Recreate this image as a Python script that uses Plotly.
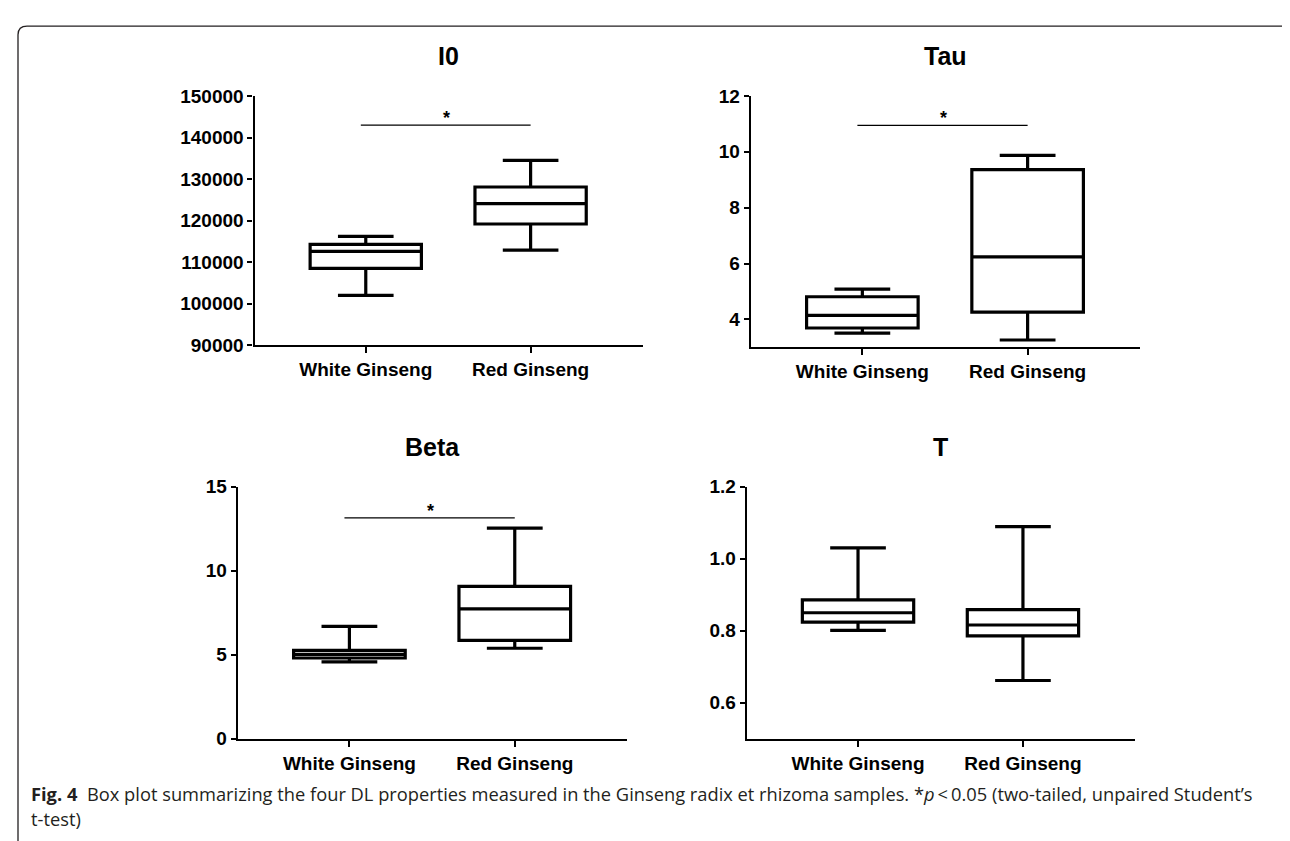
import plotly.graph_objects as go

# ---------------- data ----------------
categories = ["White Ginseng", "Red Ginseng"]
panel_titles = ["I0", "Tau", "Beta", "T"]

i0_lower = [102000, 112900]
i0_q1 = [108500, 119200]
i0_median = [112600, 124100]
i0_q3 = [114300, 128100]
i0_upper = [116200, 134500]

tau_lower = [3.51, 3.26]
tau_q1 = [3.69, 4.26]
tau_median = [4.14, 6.24]
tau_q3 = [4.81, 9.36]
tau_upper = [5.08, 9.87]

beta_lower = [4.58, 5.39]
beta_q1 = [4.81, 5.86]
beta_median = [5.03, 7.73]
beta_q3 = [5.26, 9.07]
beta_upper = [6.69, 12.53]

t_lower = [0.801, 0.662]
t_q1 = [0.824, 0.786]
t_median = [0.850, 0.816]
t_q3 = [0.886, 0.859]
t_upper = [1.030, 1.089]

# significance bar heights (None = not significant)
sig_y = [143000, 10.95, 13.15, None]

i0_ticks = [90000, 100000, 110000, 120000, 130000, 140000, 150000]
tau_ticks = [4, 6, 8, 10, 12]
beta_ticks = [0, 5, 10, 15]
t_ticks = [0.6, 0.8, 1.0, 1.2]
t_ticktext = ["0.6", "0.8", "1.0", "1.2"]

caption_head = "Fig. 4"
caption_line1 = ("Box plot summarizing the four DL properties measured in the Ginseng radix et "
                 "rhizoma samples. *<i>p</i>\u2009&lt;\u20090.05 (two-tailed, unpaired Student\u2019s")
caption_line2 = "t-test)"

# ---------------- layout helpers ----------------
W, H = 1290, 841


def fx(px):
    return px / W


def fy(py):
    return 1 - py / H


panels = [
    dict(stats=(i0_lower, i0_q1, i0_median, i0_q3, i0_upper), rng=[90000, 150000],
         tickvals=i0_ticks, ticktext=[str(v) for v in i0_ticks],
         xdom=[fx(246.5), fx(634.7)], ydom=[fy(335.7), fy(80)], title_y=38.5),
    dict(stats=(tau_lower, tau_q1, tau_median, tau_q3, tau_upper), rng=[3, 12],
         tickvals=tau_ticks, ticktext=[str(v) for v in tau_ticks],
         xdom=[fx(742.8), fx(1132)], ydom=[fy(337.7), fy(80)], title_y=38.5),
    dict(stats=(beta_lower, beta_q1, beta_median, beta_q3, beta_upper), rng=[0, 15],
         tickvals=beta_ticks, ticktext=[str(v) for v in beta_ticks],
         xdom=[fx(229.8), fx(619.2)], ydom=[fy(739.3), fy(480.7)], title_y=440),
    dict(stats=(t_lower, t_q1, t_median, t_q3, t_upper), rng=[0.5, 1.2],
         tickvals=t_ticks, ticktext=t_ticktext,
         xdom=[fx(738.7), fx(1127.1)], ydom=[fy(739.3), fy(480.7)], title_y=440),
]

FONT = "Liberation Sans, Arial, sans-serif"
TICK_SIZE = 19
cat_pos = list(range(len(categories)))

fig = go.Figure()
layout_axes = {}
annotations = []

for i, p in enumerate(panels):
    n = "" if i == 0 else str(i + 1)
    xa, ya = "x" + n, "y" + n
    lo, q1, med, q3, hi = p["stats"]
    fig.add_trace(go.Box(
        x=cat_pos, lowerfence=lo, q1=q1, median=med, q3=q3, upperfence=hi,
        xaxis=xa, yaxis=ya, width=0.675, whiskerwidth=0.5,
        line=dict(color="black", width=3.2), fillcolor="white",
        boxpoints=False, showlegend=False, hoverinfo="skip",
    ))
    if sig_y[i] is not None:
        fig.add_trace(go.Scatter(
            x=[cat_pos[0] - 0.03, cat_pos[1]], y=[sig_y[i], sig_y[i]],
            xaxis=xa, yaxis=ya, mode="lines",
            line=dict(color="black", width=1.3),
            showlegend=False, hoverinfo="skip",
        ))
        annotations.append(dict(
            x=(cat_pos[0] + cat_pos[1]) / 2 - 0.01, y=sig_y[i], xref=xa, yref=ya,
            text="*", showarrow=False, yanchor="middle", yshift=7,
            font=dict(family=FONT, size=18, color="black", weight=700),
        ))
    layout_axes["xaxis" + n] = dict(
        domain=p["xdom"], anchor=ya, range=[-0.675, 1.68],
        tickvals=cat_pos, ticktext=categories,
        showline=True, linecolor="black", linewidth=2.2,
        ticks="outside", ticklen=6, tickwidth=2.2, tickcolor="black",
        showgrid=False, zeroline=False,
        tickfont=dict(family=FONT, size=TICK_SIZE, color="black", weight=700),
    )
    layout_axes["yaxis" + n] = dict(
        domain=p["ydom"], anchor=xa, range=p["rng"],
        tickvals=p["tickvals"], ticktext=p["ticktext"],
        showline=True, linecolor="black", linewidth=2.2,
        ticks="outside", ticklen=5, tickwidth=2.2, tickcolor="black",
        showgrid=False, zeroline=False,
        tickfont=dict(family=FONT, size=TICK_SIZE, color="black", weight=700),
    )
    annotations.append(dict(
        x=(p["xdom"][0] + p["xdom"][1]) / 2, y=fy(p["title_y"]),
        xref="paper", yref="paper", text=panel_titles[i], showarrow=False,
        xanchor="center", yanchor="middle",
        font=dict(family=FONT, size=25, color="black", weight=700),
    ))

CAP_FONT = "Open Sans, Noto Sans, sans-serif"
CAP_SIZE = 18.3
annotations += [
    dict(x=fx(20.7), y=fy(795), xref="paper", yref="paper", text="<b>" + caption_head + "</b>",
         showarrow=False, xanchor="left", yanchor="middle",
         font=dict(family=CAP_FONT, size=CAP_SIZE, color="#231f20")),
    dict(x=fx(77.3), y=fy(795), xref="paper", yref="paper", text=caption_line1,
         showarrow=False, xanchor="left", yanchor="middle",
         font=dict(family=CAP_FONT, size=CAP_SIZE, color="#231f20")),
    dict(x=fx(20.7), y=fy(821), xref="paper", yref="paper", text=caption_line2,
         showarrow=False, xanchor="left", yanchor="middle",
         font=dict(family=CAP_FONT, size=CAP_SIZE, color="#231f20")),
]

# rounded frame around the figure (partly outside the visible page)
r = 9
L, T, R, B = 10, 8.3, 1296, 850
path = (f"M {fx(L)},{fy(B)} L {fx(L)},{fy(T + r)} Q {fx(L)},{fy(T)} {fx(L + r)},{fy(T)} "
        f"L {fx(R - r)},{fy(T)} Q {fx(R)},{fy(T)} {fx(R)},{fy(T + r)} L {fx(R)},{fy(B)}")

fig.update_layout(
    width=W, height=H, autosize=False,
    margin=dict(l=0, r=0, t=0, b=0),
    paper_bgcolor="white", plot_bgcolor="white",
    showlegend=False, annotations=annotations,
    shapes=[dict(type="path", path=path, xref="paper", yref="paper",
                 line=dict(color="#231f20", width=1.3))],
    **layout_axes,
)

fig.write_html("out.html")
